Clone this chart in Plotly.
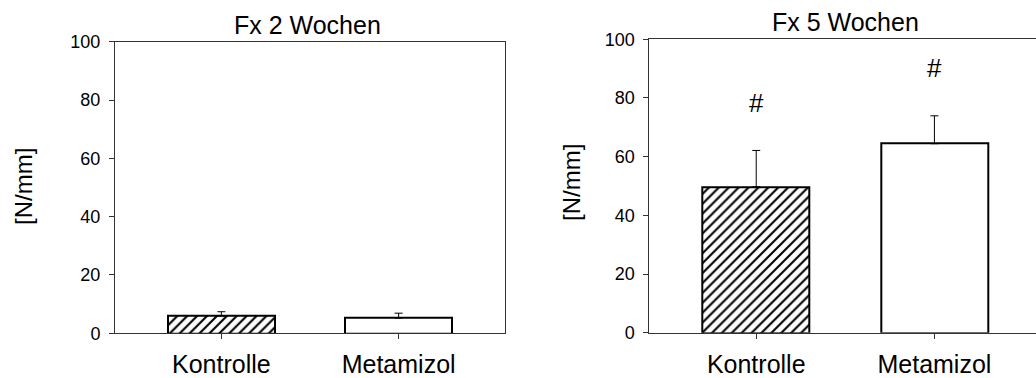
import plotly.graph_objects as go

categories = ["Kontrolle", "Metamizol"]
wk2_values = [5.9, 5.2]
wk2_err = [1.5, 1.7]
wk5_values = [49.7, 64.4]
wk5_err = [12.4, 9.5]
wk5_marks = [78.2, 90.1]
titles = ["Fx 2 Wochen", "Fx 5 Wochen"]
yticks = [0, 20, 40, 60, 80, 100]

W, H = 1036, 378
FONT = "Liberation Sans, Arial, sans-serif"

def px_x(p):
    return p / W

def px_y(p):
    return 1 - p / H

fig = go.Figure()

patterns = [dict(shape="/", size=7, solidity=0.3, fgcolor="black", bgcolor="white",
                 fgopacity=1),
            dict(shape="", bgcolor="white")]

for i, cat in enumerate(categories):
    fig.add_trace(go.Bar(
        x=[i], y=[wk2_values[i]], width=0.6,
        marker=dict(color="white", line=dict(color="black", width=2), pattern=patterns[i]),
        error_y=dict(type="data", array=[wk2_err[i]], symmetric=False, arrayminus=[0],
                     color="black", thickness=1, width=4),
        xaxis="x", yaxis="y", showlegend=False))
    fig.add_trace(go.Bar(
        x=[i], y=[wk5_values[i]], width=0.6,
        marker=dict(color="white", line=dict(color="black", width=2), pattern=patterns[i]),
        error_y=dict(type="data", array=[wk5_err[i]], symmetric=False, arrayminus=[0],
                     color="black", thickness=1, width=4),
        xaxis="x2", yaxis="y2", showlegend=False))

axis_common = dict(showgrid=False, zeroline=False, showline=True, linecolor="#333333",
                   linewidth=1, ticks="outside", ticklen=5, tickcolor="#333333",
                   automargin=False)

fig.update_layout(
    width=W, height=H, margin=dict(l=0, r=0, t=0, b=0),
    plot_bgcolor="white", paper_bgcolor="white",
    font=dict(family=FONT, color="black"),
    bargap=0,
    xaxis=dict(domain=[px_x(115), px_x(505)], range=[-0.6, 1.6], tickmode="array",
               tickvals=[0, 1], ticktext=categories, mirror=True, ticklabelstandoff=4,
               tickfont=dict(size=25), anchor="y", **axis_common),
    yaxis=dict(domain=[px_y(333.3), px_y(41.7)], range=[0, 100], tickvals=yticks,
               mirror=True, tickfont=dict(size=18), anchor="x", ticklabelstandoff=5,
               **axis_common),
    xaxis2=dict(domain=[px_x(649.3), 1.0], range=[-0.6, 1.57], tickmode="array",
                tickvals=[0, 1], ticktext=categories, mirror=True, ticklabelstandoff=4,
                tickfont=dict(size=25), anchor="y2", **axis_common),
    yaxis2=dict(domain=[px_y(332.7), px_y(39.2)], range=[0, 100], tickvals=yticks,
                mirror=False, tickfont=dict(size=18), anchor="x2", ticklabelstandoff=5,
                **axis_common),
)

annotations = [
    dict(text=titles[0], x=px_x(307), y=px_y(25), xref="paper", yref="paper",
         xanchor="center", yanchor="middle", showarrow=False, font=dict(size=25)),
    dict(text=titles[1], x=px_x(845), y=px_y(22), xref="paper", yref="paper",
         xanchor="center", yanchor="middle", showarrow=False, font=dict(size=25)),
    dict(text="[N/mm]", x=px_x(24), y=px_y(187), xref="paper", yref="paper",
         xanchor="center", yanchor="middle", showarrow=False, textangle=-90,
         font=dict(size=24)),
    dict(text="[N/mm]", x=px_x(571), y=px_y(183), xref="paper", yref="paper",
         xanchor="center", yanchor="middle", showarrow=False, textangle=-90,
         font=dict(size=24)),
]
for i, v in enumerate(wk5_marks):
    annotations.append(dict(text="#", x=i, y=v, xref="x2", yref="y2", showarrow=False,
                            xanchor="center", yanchor="middle", font=dict(size=26)))
fig.update_layout(annotations=annotations)

fig.write_html("out.html")
